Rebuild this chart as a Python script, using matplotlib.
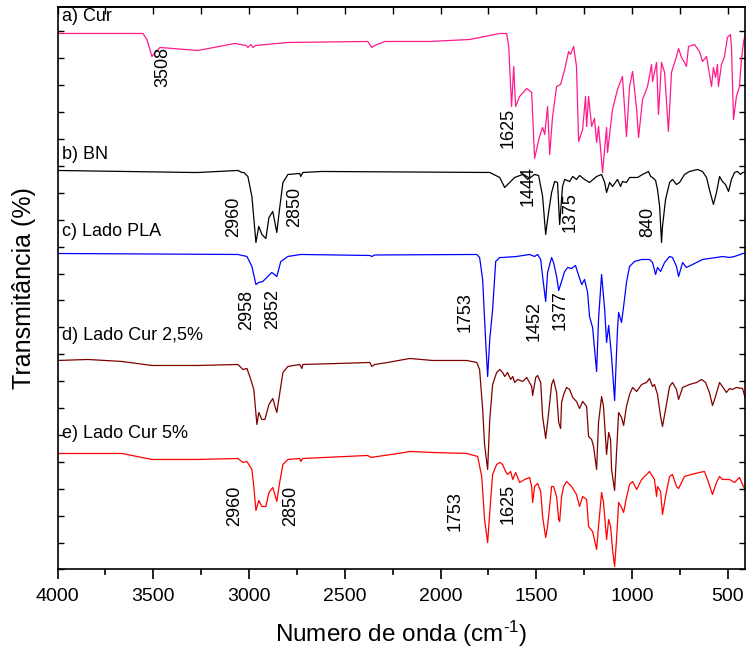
import matplotlib
matplotlib.use("Agg")
import matplotlib.pyplot as plt
from matplotlib.ticker import MultipleLocator, NullFormatter

plt.rcParams['font.family'] = ['Liberation Sans', 'DejaVu Sans']
plt.rcParams['mathtext.fontset'] = 'custom'
plt.rcParams['mathtext.rm'] = 'Liberation Sans'
plt.rcParams['mathtext.default'] = 'regular'

# spectra (wavenumber cm-1, stacked transmittance, arb. units)
cur_wn = [4000, 3554, 3533, 3507, 3486, 3465, 3267, 3074, 3016, 3006, 2990, 2980, 2964, 2797,
          2380, 2359, 2343, 2291, 2056, 1848, 1691, 1655, 1644, 1629, 1618, 1608, 1587, 1550,
          1524, 1509, 1483, 1467, 1456, 1441, 1430, 1415, 1394, 1373, 1352, 1331, 1321, 1305,
          1290, 1279, 1258, 1243, 1237, 1227, 1211, 1196, 1185, 1175, 1164, 1154, 1133, 1128,
          1102, 1076, 1050, 1029, 1013, 997, 976, 966, 945, 919, 898, 893, 872, 862, 846, 830,
          810, 794, 768, 757, 742, 726, 716, 705, 674, 648, 632, 611, 585, 575, 564, 554, 549,
          533, 517, 502, 486, 481, 470, 455, 439, 429, 418, 410]
cur_t = [53.6, 53.6, 53.0, 51.3, 51.8, 52.2, 51.9, 52.6, 52.4, 52.2, 52.5, 52.2, 52.4, 52.7,
         52.8, 52.2, 52.4, 52.8, 52.8, 53.0, 53.6, 53.6, 52.3, 46.3, 50.3, 46.3, 47.3, 48.1,
         47.7, 41.1, 43.3, 44.2, 43.5, 46.3, 41.5, 45.3, 48.3, 48.5, 50.0, 51.8, 51.5, 52.3,
         50.3, 42.8, 44.0, 47.3, 44.3, 47.3, 44.3, 45.1, 42.7, 44.3, 42.0, 39.7, 44.2, 41.7,
         46.0, 48.0, 49.3, 43.3, 48.3, 49.8, 46.0, 43.2, 47.0, 48.3, 50.5, 48.8, 50.7, 45.5,
         50.7, 49.7, 43.8, 49.7, 51.3, 52.1, 51.2, 50.7, 50.3, 52.3, 52.5, 51.8, 50.8, 51.3,
         48.3, 50.2, 49.2, 50.5, 48.3, 50.5, 51.3, 53.2, 53.5, 52.3, 45.0, 47.3, 48.3, 51.0,
         52.7, 53.5]

bn_wn = [4000, 3293, 3267, 3058, 3037, 3027, 3006, 2985, 2964, 2949, 2933, 2912, 2896, 2876,
         2855, 2839, 2823, 2797, 2735, 2730, 2719, 2620, 1743, 1691, 1665, 1639, 1613, 1571,
         1545, 1509, 1488, 1467, 1451, 1436, 1420, 1404, 1389, 1378, 1363, 1352, 1326, 1310,
         1290, 1274, 1248, 1222, 1185, 1159, 1143, 1133, 1117, 1102, 1076, 1060, 1050, 1029,
         1013, 971, 945, 924, 914, 903, 893, 877, 867, 856, 846, 841, 825, 804, 789, 768, 752,
         726, 700, 658, 632, 611, 596, 575, 559, 543, 528, 512, 496, 481, 465, 449, 434, 423,
         410]
bn_t = [39.9, 39.7, 39.7, 39.9, 39.7, 39.7, 39.3, 37.3, 32.7, 34.3, 33.5, 33.1, 35.2, 35.8,
        33.7, 36.3, 38.7, 39.5, 39.6, 39.3, 39.7, 39.8, 39.7, 39.2, 38.2, 38.7, 39.2, 39.5,
        39.0, 39.5, 39.4, 37.3, 33.5, 35.7, 37.7, 38.8, 38.7, 34.5, 38.3, 39.0, 38.8, 39.3,
        39.0, 39.4, 39.0, 38.7, 39.3, 39.5, 38.7, 37.7, 38.7, 38.3, 39.0, 38.3, 38.8, 38.7,
        39.2, 39.2, 39.5, 39.7, 39.8, 39.3, 39.2, 38.9, 38.0, 36.3, 32.7, 34.3, 37.0, 38.7,
        39.0, 38.5, 38.7, 39.5, 39.8, 40.0, 39.8, 39.2, 38.0, 36.5, 37.7, 39.3, 38.8, 38.5,
        37.8, 39.0, 39.7, 39.8, 39.5, 39.7, 39.7]

pla_wn = [4000, 3058, 3011, 2985, 2964, 2949, 2928, 2902, 2881, 2855, 2834, 2797, 2730, 2369,
          2359, 2343, 1811, 1796, 1780, 1770, 1762, 1754, 1743, 1728, 1712, 1691, 1676, 1603,
          1535, 1509, 1493, 1477, 1467, 1451, 1441, 1420, 1410, 1394, 1383, 1368, 1352, 1336,
          1316, 1295, 1284, 1263, 1248, 1232, 1222, 1206, 1185, 1175, 1159, 1143, 1133, 1122,
          1107, 1091, 1076, 1070, 1055, 1044, 1029, 1013, 987, 950, 909, 893, 877, 867, 851,
          830, 804, 789, 768, 757, 736, 716, 684, 632, 596, 559, 528, 491, 465, 434, 423, 410]
pla_t = [31.6, 31.5, 31.3, 30.3, 28.5, 28.7, 28.8, 29.3, 29.7, 29.3, 30.8, 31.3, 31.5, 31.4,
         31.3, 31.45, 31.5, 31.2, 29.0, 25.0, 22.0, 19.3, 23.0, 26.0, 30.8, 31.2, 31.2, 31.3,
         31.5, 31.3, 31.5, 31.0, 29.3, 26.8, 29.7, 31.2, 30.7, 29.3, 27.9, 28.8, 29.8, 30.2,
         30.1, 30.4, 29.7, 28.5, 29.0, 27.7, 25.3, 24.2, 19.8, 25.0, 29.5, 26.0, 22.7, 24.4,
         21.3, 16.9, 24.0, 25.7, 24.7, 26.3, 28.7, 30.3, 30.8, 31.0, 31.0, 30.7, 29.5, 30.2,
         29.8, 30.7, 31.3, 31.2, 30.3, 29.3, 30.7, 30.2, 30.5, 31.0, 31.1, 31.2, 31.3, 31.2,
         31.3, 31.5, 31.6, 31.6]

cur25_wn = [4000, 3841, 3663, 3507, 3267, 3058, 3032, 3011, 2996, 2975, 2959, 2949, 2933, 2917,
            2896, 2876, 2855, 2839, 2823, 2797, 2735, 2724, 2719, 2536, 2369, 2359, 2343, 2276,
            2161, 2041, 1863, 1811, 1796, 1780, 1770, 1754, 1743, 1728, 1707, 1691, 1676, 1665,
            1650, 1634, 1623, 1613, 1597, 1571, 1550, 1524, 1519, 1503, 1493, 1477, 1467, 1451,
            1441, 1420, 1410, 1394, 1383, 1373, 1368, 1357, 1342, 1326, 1310, 1290, 1274, 1258,
            1237, 1227, 1211, 1201, 1185, 1175, 1159, 1149, 1133, 1122, 1112, 1107, 1091, 1081,
            1070, 1055, 1044, 1029, 1013, 997, 976, 950, 924, 909, 893, 883, 867, 851, 841, 825,
            804, 789, 768, 757, 736, 700, 663, 637, 616, 596, 580, 564, 543, 528, 507, 491, 476,
            455, 423, 410]
cur25_t = [20.9, 21.0, 20.8, 20.4, 20.4, 20.5, 20.0, 20.1, 19.3, 18.0, 14.5, 15.7, 15.0, 15.0,
           16.5, 17.1, 15.7, 17.7, 19.7, 20.3, 20.5, 20.1, 20.5, 20.6, 20.7, 20.3, 20.5, 20.7,
           21.1, 20.9, 20.9, 20.7, 20.0, 16.0, 12.5, 10.0, 15.0, 18.5, 19.7, 20.0, 19.7, 19.3,
           19.7, 19.0, 19.3, 18.7, 19.0, 18.8, 19.2, 18.3, 17.4, 19.2, 19.4, 18.7, 15.3, 13.1,
           14.7, 18.5, 19.0, 17.7, 14.7, 14.1, 16.7, 17.5, 18.2, 18.0, 17.2, 16.8, 16.1, 16.8,
           16.3, 13.3, 13.0, 12.3, 10.0, 14.7, 17.3, 16.3, 11.5, 13.7, 13.0, 10.0, 7.9, 11.7,
           15.7, 15.2, 14.4, 16.3, 17.5, 18.2, 17.8, 18.5, 18.7, 19.1, 18.3, 18.5, 17.5, 15.3,
           14.3, 16.0, 18.3, 18.7, 18.0, 17.0, 18.2, 18.5, 18.7, 19.0, 18.7, 17.7, 16.4, 17.3,
           18.7, 18.3, 17.7, 18.1, 18.0, 18.2, 18.1, 17.2]

cur5_wn = [4000, 3663, 3507, 3267, 3058, 3032, 3011, 2985, 2975, 2964, 2949, 2933, 2912, 2896,
           2876, 2855, 2839, 2823, 2797, 2735, 2730, 2719, 2380, 2364, 2187, 2161, 2041, 1863,
           1806, 1785, 1770, 1754, 1743, 1728, 1707, 1691, 1676, 1660, 1650, 1634, 1623, 1608,
           1587, 1561, 1535, 1524, 1519, 1509, 1493, 1477, 1467, 1451, 1441, 1420, 1410, 1394,
           1383, 1378, 1368, 1357, 1342, 1316, 1290, 1274, 1258, 1237, 1227, 1206, 1185, 1175,
           1159, 1149, 1133, 1122, 1112, 1102, 1091, 1081, 1070, 1055, 1044, 1029, 1013, 997,
           976, 950, 924, 909, 893, 883, 872, 867, 851, 841, 825, 804, 789, 768, 757, 726, 690,
           648, 622, 606, 580, 559, 543, 528, 491, 465, 439, 423, 410]
cur5_t = [11.6, 11.6, 11.0, 11.0, 11.1, 10.7, 10.8, 10.0, 8.3, 5.9, 6.9, 6.3, 6.3, 7.7,
          8.2, 6.8, 8.8, 10.5, 11.0, 11.1, 10.8, 11.1, 11.4, 11.2, 11.7, 11.8, 11.7, 11.6,
          11.3, 9.3, 5.0, 2.7, 5.7, 9.5, 10.5, 10.7, 10.5, 9.8, 9.5, 9.8, 9.0, 9.7,
          8.7, 9.0, 9.2, 8.3, 6.7, 8.3, 8.6, 7.8, 5.3, 3.2, 4.3, 8.3, 8.3, 7.3,
          5.0, 4.8, 7.3, 8.3, 8.8, 8.3, 7.5, 6.3, 7.3, 7.0, 4.3, 3.8, 2.0, 4.3,
          7.7, 6.7, 3.0, 5.0, 4.3, 2.0, 0.3, 3.0, 6.7, 6.2, 5.7, 7.2, 8.5, 8.8,
          8.0, 9.0, 9.5, 9.8, 9.3, 9.0, 7.3, 8.3, 7.8, 5.5, 7.3, 9.3, 9.5, 8.3, 8.1, 9.3, 9.5,
          9.7, 9.8, 9.0, 7.5, 8.7, 9.3, 9.0, 9.0, 8.7, 9.2, 8.5, 8.0]

sample_names = ['a) Cur', 'b) BN', 'c) Lado PLA', 'd) Lado Cur 2,5%', 'e) Lado Cur 5%']
sample_colors = ['#ff1a8c', 'black', '#0000ff', '#800000', '#ff0000']
name_y = [55.3, 41.5, 33.8, 23.4, 13.6]

# peak labels: (text, wavenumber position, height)
peak_labels = [('3508', 3449, 50.3), ('1625', 1649, 44.2),
               ('2960', 3079, 35.3), ('2850', 2761, 36.3), ('1444', 1545, 38.3),
               ('1375', 1321, 35.7), ('840', 919, 34.8),
               ('2958', 3011, 26.0), ('2852', 2876, 26.0), ('1753', 1874, 25.7),
               ('1452', 1509, 24.8), ('1377', 1373, 25.9),
               ('2960', 3074, 6.4), ('2850', 2782, 6.4), ('1753', 1926, 5.8), ('1625', 1649, 6.6)]

fig = plt.figure(figsize=(7.49, 6.56), dpi=100)
ax = fig.add_axes([0.0768, 0.1319, 0.9179, 0.8567])

spectra = [(cur_wn, cur_t), (bn_wn, bn_t), (pla_wn, pla_t), (cur25_wn, cur25_t), (cur5_wn, cur5_t)]
for (wn, t), col in zip(spectra, sample_colors):
    ax.plot(wn, t, color=col, lw=0.9)

for name, y in zip(sample_names, name_y):
    ax.text(3975, y, name, fontsize=13, ha='left', va='center')

for txt, x, y in peak_labels:
    ax.text(x, y, txt, fontsize=13, rotation=90, ha='center', va='center')

ax.set_xlim(4000, 410)
ax.set_ylim(0, 56.2)

ax.xaxis.set_major_locator(MultipleLocator(500))
ax.xaxis.set_minor_locator(MultipleLocator(250))
ax.yaxis.set_major_locator(MultipleLocator(2.69))
ax.yaxis.set_major_formatter(NullFormatter())
ax.tick_params(axis='x', which='major', direction='out', length=7, width=1.2, labelsize=14,
               pad=6, top=False)
ax.tick_params(axis='x', which='minor', direction='out', length=4, width=1.2, top=False)
ax.tick_params(axis='y', which='major', direction='in', length=4, width=1, left=True, right=True)

# inward ticks on the top spine
top = ax.secondary_xaxis('top')
top.xaxis.set_major_locator(MultipleLocator(250))
top.tick_params(direction='in', length=5, width=1, labeltop=False)

for s in ax.spines.values():
    s.set_linewidth(1.2)
for s in top.spines.values():
    s.set_linewidth(1.2)

ax.set_xlabel('Numero de onda (cm$^{\u2010 1}$)', fontsize=17.5, labelpad=10)
ax.set_ylabel('Transmitância (%)', fontsize=18, labelpad=12)

fig.savefig('out.png', dpi=100)
